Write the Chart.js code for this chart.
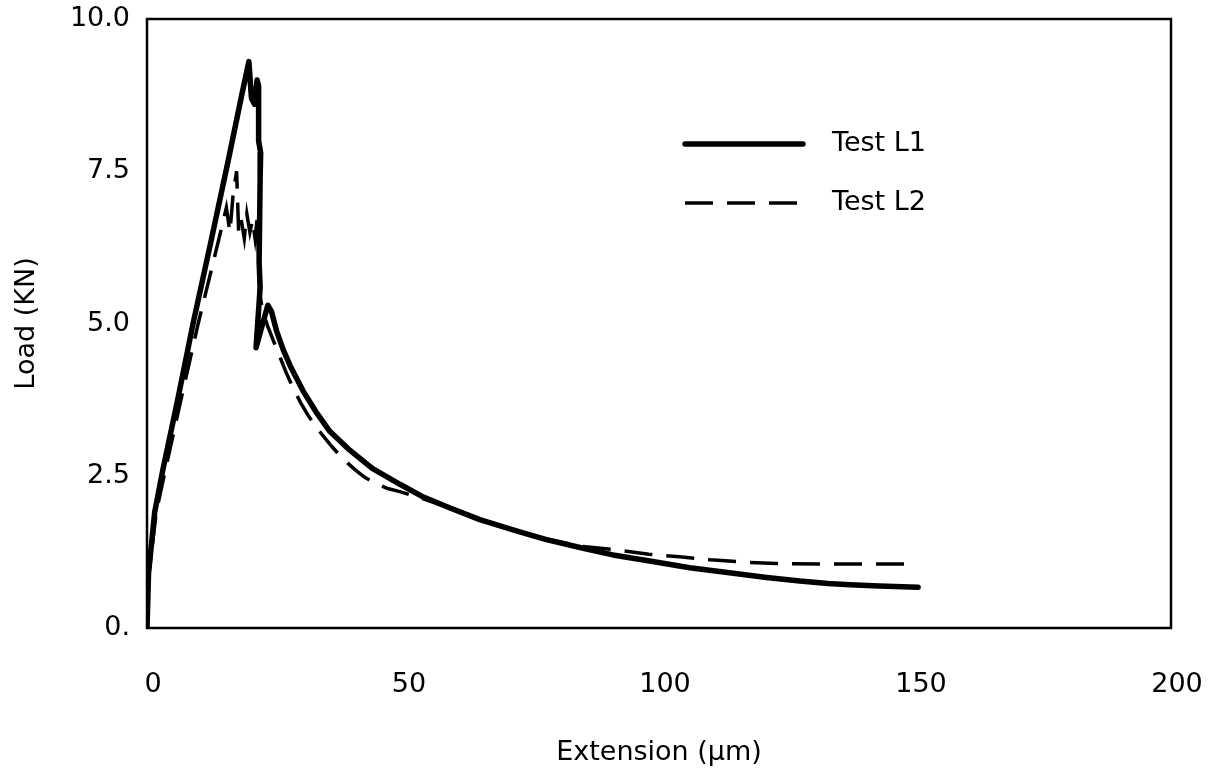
<!DOCTYPE html>
<html>
<head>
<meta charset="utf-8">
<title>Load vs Extension</title>
<script src="https://cdn.jsdelivr.net/npm/chart.js@4"></script>
<style>
    html, body { margin: 0; padding: 0; background: #fff; }
</style>
</head>
<body>
<canvas id="loadChart" width="1222" height="773"></canvas>
<script>
// Test L1 (solid)
const l1Extension = [0, 0.3, 1.5, 3.1, 6.0, 9.0, 12.5, 15.8, 18.5, 19.9, 20.4, 21.0, 21.5, 21.8,
    21.8, 22.2, 22.1, 21.9, 22.1, 21.3, 22.6, 23.6, 24.3, 25.3, 26.6, 28.0, 30.5, 33.0, 35.7, 39.6, 44.0, 49.4,
    54.0, 59.2, 65.0, 72.3, 78.0, 85.2, 91.0, 98.2, 106.0, 114.5, 121.0, 127.5, 133.0, 137.3, 143.0, 150.6];
const l1Load = [0, 0.9, 1.9, 2.6, 3.75, 5.0, 6.35, 7.65, 8.75, 9.3, 8.7, 8.6, 9.0, 8.9,
    8.0, 7.8, 7.4, 6.0, 5.6, 4.6, 5.0, 5.3, 5.2, 4.88, 4.57, 4.3, 3.89, 3.55, 3.23, 2.92, 2.62, 2.36,
    2.15, 1.97, 1.78, 1.59, 1.45, 1.31, 1.2, 1.1, 0.99, 0.9, 0.83, 0.77, 0.73, 0.71, 0.69, 0.67];

// Test L2 (dashed)
const l2Extension = [0, 0.4, 1.8, 3.6, 6.5, 10.0, 13.5, 15.5, 16.2, 16.8, 17.5, 17.9, 18.4, 19.0,
    19.5, 20.1, 20.6, 21.1, 21.5, 21.8, 22.0, 22.6, 23.6, 25.0, 26.3, 27.3, 28.9, 30.0, 31.4, 33.2, 36.1, 38.0,
    40.6, 42.6, 45.0, 47.0, 49.4, 54.0, 59.2, 65.0, 72.3, 78.0, 85.0, 92.0, 98.0, 104.0, 110.0, 116.8, 123.0,
    132.0, 141.0, 150.4];
const l2Load = [0, 0.9, 1.9, 2.6, 3.7, 5.0, 6.2, 6.9, 6.5, 7.1, 7.5, 6.5, 6.7, 6.4,
    6.8, 6.5, 6.7, 6.4, 6.7, 6.1, 5.5, 5.2, 4.95, 4.65, 4.38, 4.17, 3.88, 3.7, 3.5, 3.28, 2.98, 2.8,
    2.6, 2.47, 2.36, 2.29, 2.24, 2.12, 1.97, 1.78, 1.59, 1.46, 1.34, 1.28, 1.21, 1.17, 1.12, 1.08, 1.06,
    1.05, 1.05, 1.05];

const seriesNames = ['Test L1', 'Test L2'];
const extensionTicks = [0, 50, 100, 150, 200];
const loadTicks = [0, 2.5, 5, 7.5, 10];

const FONT = { family: '"DejaVu Sans", sans-serif', size: 27 };

const toPoints = (xs, ys) => xs.map((x, i) => ({ x: x, y: ys[i] }));

// box round the plot area
const framePlugin = {
    id: 'frame',
    afterDraw(chart) {
        const { ctx, chartArea } = chart;
        ctx.save();
        ctx.strokeStyle = '#000';
        ctx.lineWidth = 2.5;
        ctx.strokeRect(chartArea.left, chartArea.top, chartArea.right - chartArea.left, chartArea.bottom - chartArea.top);
        ctx.restore();
    },
};

// legend drawn inside the plot, sample line then label
const insideLegend = {
    id: 'insideLegend',
    afterDraw(chart) {
        const { ctx, chartArea } = chart;
        chart.data.datasets.forEach((ds, i) => {
            const x0 = chartArea.left + 538;
            const y = chartArea.top + 125 + i * 59;
            ctx.save();
            ctx.strokeStyle = ds.borderColor;
            ctx.lineWidth = ds.borderWidth;
            ctx.lineCap = ds.borderDash ? 'butt' : 'round';
            ctx.setLineDash(ds.borderDash || []);
            ctx.beginPath();
            ctx.moveTo(x0, y);
            ctx.lineTo(x0 + 118, y);
            ctx.stroke();
            ctx.setLineDash([]);
            ctx.fillStyle = '#000';
            ctx.font = FONT.size + 'px ' + FONT.family;
            ctx.textBaseline = 'middle';
            ctx.fillText(ds.label, x0 + 147, y);
            ctx.restore();
        });
    },
};

new Chart(document.getElementById('loadChart'), {
    type: 'line',
    data: {
        datasets: [
            {
                label: seriesNames[0],
                data: toPoints(l1Extension, l1Load),
                borderColor: '#000',
                borderWidth: 5.5,
                borderJoinStyle: 'round',
                borderCapStyle: 'round',
                pointRadius: 0,
                tension: 0,
                fill: false,
            },
            {
                label: seriesNames[1],
                data: toPoints(l2Extension, l2Load),
                borderColor: '#000',
                borderWidth: 3.5,
                borderDash: [28, 14],
                pointRadius: 0,
                tension: 0,
                fill: false,
            },
        ],
    },
    options: {
        responsive: false,
        animation: false,
        layout: { autoPadding: false, padding: { top: 19, right: 51, left: 0, bottom: 0 } },
        plugins: {
            legend: { display: false },
            tooltip: { enabled: false },
        },
        scales: {
            x: {
                type: 'linear',
                min: 0,
                max: 200,
                afterFit: (scale) => {
                    scale.height = 145;
                    scale.paddingLeft = 0;
                    scale.paddingRight = 0;
                },
                afterBuildTicks: (scale) => { scale.ticks = extensionTicks.map((v) => ({ value: v })); },
                grid: { display: false, drawTicks: false },
                border: { display: false },
                ticks: { color: '#000', font: FONT, padding: 41, labelOffset: 6, maxRotation: 0 },
                title: { display: true, text: 'Extension (μm)', color: '#000', font: FONT, padding: { top: 0, bottom: 4 } },
            },
            y: {
                type: 'linear',
                min: 0,
                max: 10,
                afterFit: (scale) => {
                    scale.width = 147;
                    scale.paddingTop = 0;
                    scale.paddingBottom = 0;
                },
                afterBuildTicks: (scale) => { scale.ticks = loadTicks.map((v) => ({ value: v })); },
                grid: { display: false, drawTicks: false },
                border: { display: false },
                ticks: {
                    color: '#000',
                    font: FONT,
                    padding: 17,
                    callback: (v) => (v === 0 ? '0.' : v.toFixed(1)),
                },
                title: { display: true, text: 'Load (KN)', color: '#000', font: FONT, padding: { top: 11, bottom: 0 } },
            },
        },
    },
    plugins: [framePlugin, insideLegend],
});
</script>
</body>
</html>
